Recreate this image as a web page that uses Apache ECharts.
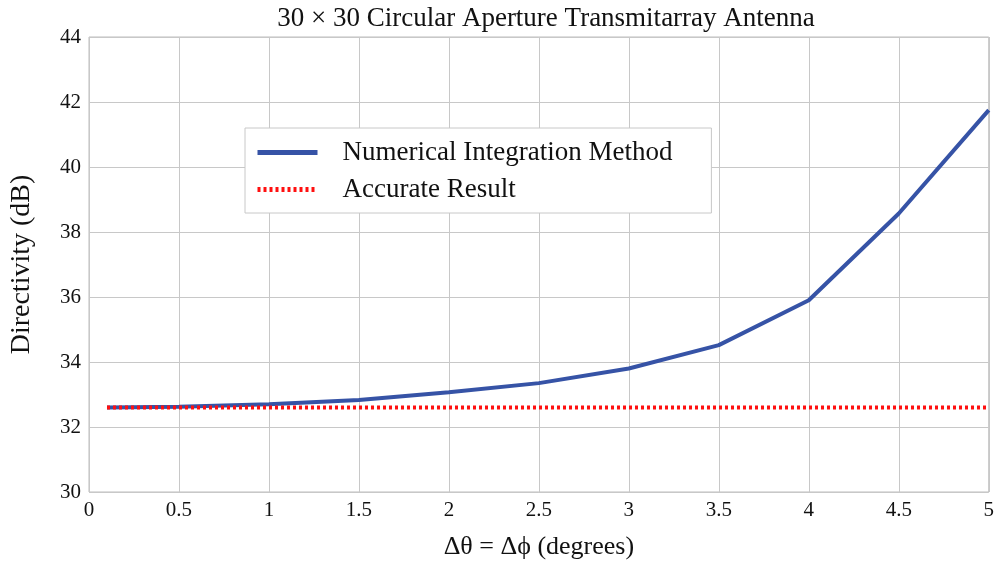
<!DOCTYPE html>
<html>
<head>
<meta charset="utf-8">
<script src="https://cdn.jsdelivr.net/npm/echarts@6/dist/echarts.min.js"></script>
<style>
  html, body { margin: 0; padding: 0; background: #fff; }
  #chart { width: 997px; height: 565px; }
</style>
</head>
<body>
<div id="chart"></div>
<script>
  // sampling step (degrees)
  var steps = [0.1, 0.5, 1, 1.5, 2, 2.5, 3, 3.5, 4, 4.5, 5]
  // directivity values (dB)
  var numerical = [32.6, 32.62, 32.7, 32.83, 33.07, 33.35, 33.8, 34.52, 35.9, 38.57, 41.75]
  var accurate = [32.6, 32.6, 32.6, 32.6, 32.6, 32.6, 32.6, 32.6, 32.6, 32.6, 32.6]

  var serif = 'Liberation Serif'
  var myChart = echarts.init(document.getElementById('chart'))

  function pairs(vals) {
    return steps.map(function (x, i) { return [x, vals[i]] })
  }

  var option = {
    backgroundColor: '#fff',
    animation: false,
    title: {
      text: '30 × 30 Circular Aperture Transmitarray Antenna',
      left: 541, top: 0, textAlign: 'center',
      textStyle: { fontFamily: serif, fontSize: 27, fontWeight: 'normal', color: '#111' }
    },
    grid: {
      left: 88, right: 6, top: 37, bottom: 73,
      show: true, borderColor: '#bdbdbd', borderWidth: 1
    },
    legend: {
      orient: 'vertical',
      left: 245, top: 128,
      padding: [11, 39, 10, 10],
      itemGap: 10,
      itemWidth: 60, itemHeight: 14,
      backgroundColor: '#fff',
      borderColor: '#c8c8c8', borderWidth: 1,
      itemStyle: { opacity: 0 },
      lineStyle: { width: 5 },
      textStyle: { fontFamily: serif, fontSize: 27, color: '#111', padding: [0, 0, 0, 20] },
      data: ['Numerical Integration Method', 'Accurate Result']
    },
    xAxis: {
      type: 'value', min: 0, max: 5, interval: 0.5,
      name: 'Δθ = Δϕ (degrees)', nameLocation: 'middle', nameGap: 42,
      nameTextStyle: { fontFamily: serif, fontSize: 26, color: '#111' },
      axisLine: { show: false },
      axisTick: { show: false },
      axisLabel: { fontFamily: serif, fontSize: 21, color: '#111', margin: 8 },
      splitLine: { show: true, lineStyle: { color: '#c8c8c8', width: 1 } }
    },
    yAxis: {
      type: 'value', min: 30, max: 44, interval: 2,
      name: 'Directivity (dB)', nameLocation: 'middle', nameGap: 53, nameRotate: 90,
      nameTextStyle: { fontFamily: serif, fontSize: 28, color: '#111' },
      axisLine: { show: false },
      axisTick: { show: false },
      axisLabel: { fontFamily: serif, fontSize: 21, color: '#111', margin: 8 },
      splitLine: { show: true, lineStyle: { color: '#c8c8c8', width: 1 } }
    },
    series: [
      {
        name: 'Numerical Integration Method',
        type: 'line',
        symbol: 'none',
        z: 3,
        lineStyle: { color: '#3653a6', width: 4 },
        itemStyle: { color: '#3653a6' },
        data: pairs(numerical)
      },
      {
        name: 'Accurate Result',
        type: 'line',
        symbol: 'none',
        z: 4,
        lineStyle: { color: '#ff1010', width: 4, type: [3, 3] },
        itemStyle: { color: '#ff1010' },
        data: pairs(accurate)
      }
    ]
  }
  myChart.setOption(option)
</script>
</body>
</html>
